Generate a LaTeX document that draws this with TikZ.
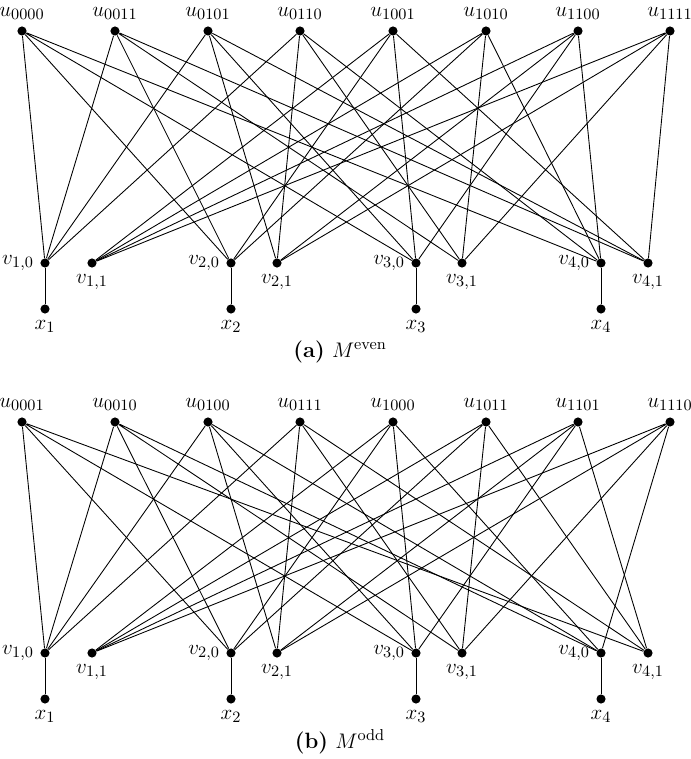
\documentclass[tikz,border=0pt]{standalone}
\usepackage{tikz}
\usetikzlibrary{positioning}
\usepackage{xcolor}
\definecolor{Ink}{HTML}{000000}

\begin{document}
\begin{tikzpicture}[
            x=0.02cm, y=-0.02cm,
            every label/.style={font=\fontsize{12.6}{15}\selectfont, text=Ink},
            vertex/.style={
                circle,
                fill=Ink,
                inner sep=0pt,
                minimum size=5.2pt,
                label distance=4pt
            },
            edge/.style={line width=0.5pt, color=Ink},
            caption/.style={font=\fontsize{12.6}{15}\selectfont, text=Ink}
        ]
            \useasboundingbox (0,0) rectangle (690,759);

            % (a) even words
            \node[vertex, label=above:{$u_{0000}$}] (au0000) at (22,31) {};
            \node[vertex, label=above:{$u_{0011}$}] (au0011) at (115,31) {};
            \node[vertex, label=above:{$u_{0101}$}] (au0101) at (208,31) {};
            \node[vertex, label=above:{$u_{0110}$}] (au0110) at (300,31) {};
            \node[vertex, label=above:{$u_{1001}$}] (au1001) at (393,31) {};
            \node[vertex, label=above:{$u_{1010}$}] (au1010) at (486,31) {};
            \node[vertex, label=above:{$u_{1100}$}] (au1100) at (578,31) {};
            \node[vertex, label=above:{$u_{1111}$}] (au1111) at (670,31) {};

            \node[vertex, label=left:{$v_{1,0}$}] (av10) at (45,263) {};
            \node[vertex, label=below:{$v_{1,1}$}] (av11) at (92,263) {};
            \node[vertex, label=left:{$v_{2,0}$}] (av20) at (231,263) {};
            \node[vertex, label=below:{$v_{2,1}$}] (av21) at (277,263) {};
            \node[vertex, label=left:{$v_{3,0}$}] (av30) at (416,263) {};
            \node[vertex, label=below:{$v_{3,1}$}] (av31) at (462,263) {};
            \node[vertex, label=left:{$v_{4,0}$}] (av40) at (601,263) {};
            \node[vertex, label=below:{$v_{4,1}$}] (av41) at (648,263) {};

            \node[vertex, label=below:{$x_1$}] (ax1) at (45,309) {};
            \node[vertex, label=below:{$x_2$}] (ax2) at (231,309) {};
            \node[vertex, label=below:{$x_3$}] (ax3) at (416,309) {};
            \node[vertex, label=below:{$x_4$}] (ax4) at (601,309) {};

            \node[caption] (acap) at (340,352) {\textbf{(a)} $M^{\mathrm{even}}$};

            \draw[edge] (au0000) -- (av10) (au0000) -- (av20) (au0000) -- (av30) (au0000) -- (av40);
            \draw[edge] (au0011) -- (av10) (au0011) -- (av20) (au0011) -- (av31) (au0011) -- (av41);
            \draw[edge] (au0101) -- (av10) (au0101) -- (av21) (au0101) -- (av30) (au0101) -- (av41);
            \draw[edge] (au0110) -- (av10) (au0110) -- (av21) (au0110) -- (av31) (au0110) -- (av40);
            \draw[edge] (au1001) -- (av11) (au1001) -- (av20) (au1001) -- (av30) (au1001) -- (av41);
            \draw[edge] (au1010) -- (av11) (au1010) -- (av20) (au1010) -- (av31) (au1010) -- (av40);
            \draw[edge] (au1100) -- (av11) (au1100) -- (av21) (au1100) -- (av30) (au1100) -- (av40);
            \draw[edge] (au1111) -- (av11) (au1111) -- (av21) (au1111) -- (av31) (au1111) -- (av41);
            \draw[edge] (av10) -- (ax1) (av20) -- (ax2) (av30) -- (ax3) (av40) -- (ax4);

            % (b) odd words
            \node[vertex, label=above:{$u_{0001}$}] (bu0001) at (22,422) {};
            \node[vertex, label=above:{$u_{0010}$}] (bu0010) at (115,422) {};
            \node[vertex, label=above:{$u_{0100}$}] (bu0100) at (208,422) {};
            \node[vertex, label=above:{$u_{0111}$}] (bu0111) at (300,422) {};
            \node[vertex, label=above:{$u_{1000}$}] (bu1000) at (393,422) {};
            \node[vertex, label=above:{$u_{1011}$}] (bu1011) at (486,422) {};
            \node[vertex, label=above:{$u_{1101}$}] (bu1101) at (578,422) {};
            \node[vertex, label=above:{$u_{1110}$}] (bu1110) at (670,422) {};

            \node[vertex, label=left:{$v_{1,0}$}] (bv10) at (45,653) {};
            \node[vertex, label=below:{$v_{1,1}$}] (bv11) at (92,653) {};
            \node[vertex, label=left:{$v_{2,0}$}] (bv20) at (231,653) {};
            \node[vertex, label=below:{$v_{2,1}$}] (bv21) at (277,653) {};
            \node[vertex, label=left:{$v_{3,0}$}] (bv30) at (416,653) {};
            \node[vertex, label=below:{$v_{3,1}$}] (bv31) at (462,653) {};
            \node[vertex, label=left:{$v_{4,0}$}] (bv40) at (601,653) {};
            \node[vertex, label=below:{$v_{4,1}$}] (bv41) at (648,653) {};

            \node[vertex, label=below:{$x_1$}] (bx1) at (45,699) {};
            \node[vertex, label=below:{$x_2$}] (bx2) at (231,699) {};
            \node[vertex, label=below:{$x_3$}] (bx3) at (416,699) {};
            \node[vertex, label=below:{$x_4$}] (bx4) at (601,699) {};

            \node[caption] (bcap) at (340,742) {\textbf{(b)} $M^{\mathrm{odd}}$};

            \draw[edge] (bu0001) -- (bv10) (bu0001) -- (bv20) (bu0001) -- (bv30) (bu0001) -- (bv41);
            \draw[edge] (bu0010) -- (bv10) (bu0010) -- (bv20) (bu0010) -- (bv31) (bu0010) -- (bv40);
            \draw[edge] (bu0100) -- (bv10) (bu0100) -- (bv21) (bu0100) -- (bv30) (bu0100) -- (bv40);
            \draw[edge] (bu0111) -- (bv10) (bu0111) -- (bv21) (bu0111) -- (bv31) (bu0111) -- (bv41);
            \draw[edge] (bu1000) -- (bv11) (bu1000) -- (bv20) (bu1000) -- (bv30) (bu1000) -- (bv40);
            \draw[edge] (bu1011) -- (bv11) (bu1011) -- (bv20) (bu1011) -- (bv31) (bu1011) -- (bv41);
            \draw[edge] (bu1101) -- (bv11) (bu1101) -- (bv21) (bu1101) -- (bv30) (bu1101) -- (bv41);
            \draw[edge] (bu1110) -- (bv11) (bu1110) -- (bv21) (bu1110) -- (bv31) (bu1110) -- (bv40);
            \draw[edge] (bv10) -- (bx1) (bv20) -- (bx2) (bv30) -- (bx3) (bv40) -- (bx4);
        \end{tikzpicture}
\end{document}
